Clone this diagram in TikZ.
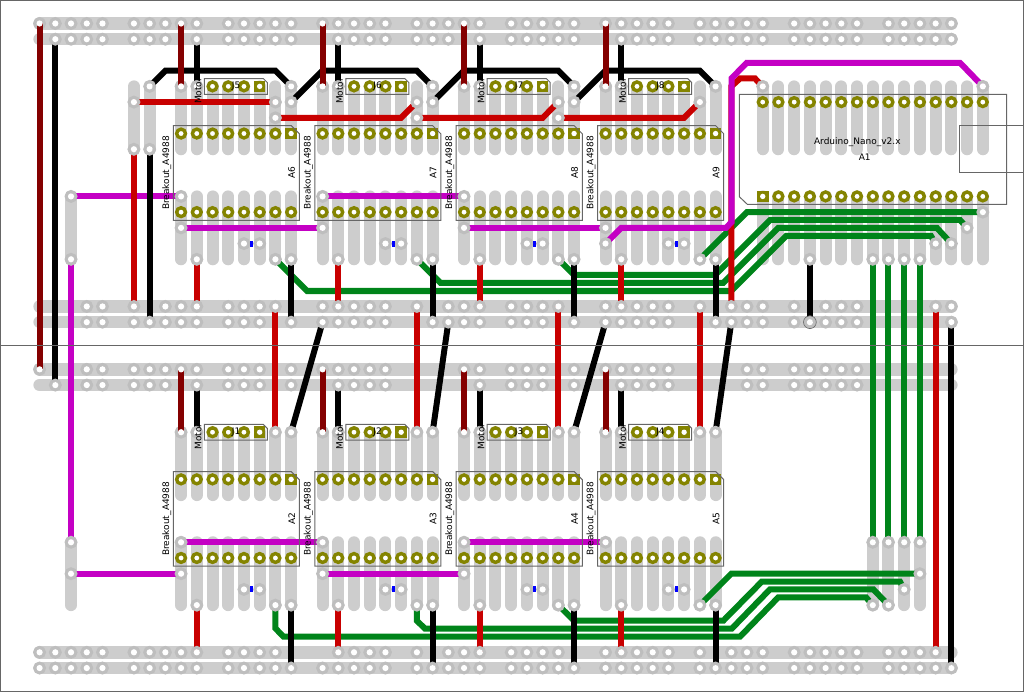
\documentclass[tikz,border=0pt]{standalone}
\usepackage{fontspec}
\usetikzlibrary{calc}
\setmainfont{DejaVu Sans}
\definecolor{stripc}{HTML}{CDCDCD}
\definecolor{ringc}{HTML}{BEBEBE}
\definecolor{redc}{HTML}{C80000}
\definecolor{dredc}{HTML}{840000}
\definecolor{greenc}{HTML}{00841A}
\definecolor{magc}{HTML}{C400C4}
\definecolor{goldc}{HTML}{848400}
\definecolor{linec}{HTML}{666666}
\tikzset{
  strip/.style={line width=12pt,color=stripc,line cap=round},
  rail/.style={line width=12.5pt,color=stripc,line cap=round},
  trk/.style={line width=6pt,line join=miter,line cap=butt},
  gr/.style={trk,color=greenc},
  rd/.style={trk,color=redc},
  dr/.style={trk,color=dredc},
  bk/.style={trk,color=black},
  mg/.style={trk,color=magc},
  ringpad/.style={circle,draw=ringc,line width=3.4pt,fill=none,inner sep=0pt,minimum size=9.4pt},
  goldpad/.style={circle,draw=goldc,line width=3.4pt,fill=white,inner sep=0pt,minimum size=8.8pt},
  goldsq/.style={rectangle,fill=goldc,inner sep=0pt,minimum size=11.6pt},
  outl/.style={draw=linec,line width=1pt},
  lab/.style={font=\fontsize{9}{11}\selectfont,inner sep=0pt,text=black},
}
% #1 = comma list of excluded columns, #2 = row, #3 = code
\makeatletter
\newcommand\railpads[3]{%
  \foreach \cI in {0,...,58}{%
    \pgfmathtruncatemacro\mI{mod(\cI,6)}%
    \ifnum\mI=5\else
      \edef\tmpin{\noexpand\in@{,\cI,}{,#1,}}\tmpin
      \ifin@\else\def\rI{#2}#3\fi
    \fi}}
\makeatother
\newcommand\sitepads[1]{%
  \railpads{}{0}{#1}%
  \railpads{0,9,18,27,36}{1}{#1}%
  \railpads{0,1,2,7,16,25,34,43,49,53,54,55,56}{18}{#1}%
  \railpads{0,1,2,15,24,33,42,53,54,55,56,57}{19}{#1}%
  \railpads{1,2,15,24,25,26,33,42,43,44,53,54,55,56,57,58}{22}{#1}%
  \railpads{0,2,9,18,27,36,15,24,25,26,33,42,43,44,53,54,55,56,57,58}{23}{#1}%
  \railpads{16,18,25,34,43,58}{40}{#1}%
  \railpads{}{41}{#1}%
  \foreach \cI/\rI in {6/5,6/8,7/4,7/8,2/11,2/15,2/33,2/35,
    9/11,9/13,18/11,18/13,27/11,27/13,36/13,36/14,
    15/5,15/6,24/5,24/6,33/5,33/6,42/5,16/5,25/5,34/5,
    9/33,9/35,18/33,18/35,27/33,27/35,36/33,
    46/4,60/4,60/12,59/13,58/14,57/14,53/15,54/15,55/15,56/15,49/15,
    53/33,54/33,55/33,56/33,56/35,55/36,54/37,53/37}{#1}%
  \foreach \bI in {9,18,27,36}{%
    \foreach \kI/\rI in {0/4,1/4,7/4,1/15,4/14,5/14,6/15,7/15,0/26,1/26,6/26,7/26,1/37,4/36,5/36,6/37,7/37}{%
      \pgfmathtruncatemacro\cI{\bI+\kI}#1}}%
}
\begin{document}
\begin{tikzpicture}[x=1pt,y=-1pt]
\useasboundingbox (0,0) rectangle (1024,692);
\foreach \c in {0,...,60}{\foreach \r in {0,...,41}{
  \coordinate (g\c-\r) at ({39.6+15.72*\c},{23.5+15.72*\r});}}
% strips
\foreach \r in {0,1,18,19,22,23,40,41}{\draw[rail] (g0-\r) -- (g58-\r);}
\foreach \c in {6,7}{\draw[strip] (g\c-4) -- (g\c-8);}
\draw[strip] (g2-11) -- (g2-15);
\draw[strip] (g2-33) -- (g2-37);
\foreach \b in {9,18,27,36}{\foreach \k in {0,...,7}{
  \pgfmathtruncatemacro\c{\b+\k}
  \draw[strip] (g\c-4) -- (g\c-8);
  \draw[strip] (g\c-11) -- (g\c-15);
  \draw[strip] (g\c-26) -- (g\c-30);
  \draw[strip] (g\c-33) -- (g\c-37);
}}
\foreach \c in {46,...,60}{\draw[strip] (g\c-4) -- (g\c-8); \draw[strip] (g\c-11) -- (g\c-15);}
\foreach \c in {53,...,56}{\draw[strip] (g\c-33) -- (g\c-37);}
% green
\draw[gr] (g15-15) -- (307.1,291) -- (731,291) -- (786,236) -- (931,236) -- (g57-14);
\draw[gr] (g24-15) -- (440.6,283) -- (723,283) -- (778,228) -- (937,228) -- (g58-14);
\draw[gr] (g33-15) -- (574.1,275) -- (715,275) -- (770,220) -- (960,220) -- (g59-13);
\draw[gr] (g42-15) -- (g45-12) -- (g60-12);
\draw[gr] (g15-37) -- (275.4,628.3) -- (283.5,636.7) -- (740,636.7) -- (778.3,597.3) -- (866,597.3) -- (g53-37);
\draw[gr] (g24-37) -- (416.9,620.7) -- (425,628.7) -- (731.7,628.7) -- (770,589.3) -- (873.3,589.3) -- (g54-37);
\draw[gr] (g33-37) -- (574,620.7) -- (723.3,620.7) -- (761.7,581.7) -- (900,581.7) -- (g55-36);
\draw[gr] (g42-37) -- (g44-35) -- (g56-35);
\foreach \c in {53,...,56}{\draw[gr] (g\c-15) -- (g\c-33);}
% red under magenta
\draw[rd] (g44-18) -- (731.3,86.4) -- (740,78.5) -- (755,78.5) -- (g46-4);
% magenta
\draw[mg] (g2-11) -- (g9-11);
\draw[mg] (g9-13) -- (g18-13);
\draw[mg] (g18-11) -- (g27-11);
\draw[mg] (g27-13) -- (g36-13);
\draw[mg] (g36-14) -- (g37-13) -- (726,227.9) -- (731.6,222) -- (731.6,78.3) -- (746.7,62.8) -- (960,62.8) -- (g60-4);
\draw[mg] (g2-15) -- (g2-33);
\draw[mg] (g2-35) -- (g9-35);
\draw[mg] (g9-33) -- (g18-33);
\draw[mg] (g18-35) -- (g27-35);
\draw[mg] (g27-33) -- (g36-33);
% red
\draw[rd] (g6-8) -- (g6-18);
\draw[rd] (g6-5) -- (g15-5);
\draw[rd] (g15-6) -- (401,117.8) -- (g24-5);
\draw[rd] (g24-6) -- (542.7,117.8) -- (g33-5);
\draw[rd] (g33-6) -- (684,117.8) -- (g42-5);
\draw[rd] (g57-18) -- (g57-40);
\foreach \b in {9,18,27,36}{
  \pgfmathtruncatemacro\d{\b+1}
  \pgfmathtruncatemacro\e{\b+6}
  \pgfmathtruncatemacro\f{\b+7}
  \draw[rd] (g\d-15) -- (g\d-18);
  \draw[rd] (g\e-18) -- (g\e-26);
  \draw[rd] (g\d-37) -- (g\d-40);
  \draw[bk] (g\d-1) -- (g\d-4);
  \draw[bk] (g\d-23) -- (g\d-26);
  \draw[bk] (g\f-15) -- (g\f-19);
  \draw[bk] (g\f-37) -- (g\f-41);
}
% black
\draw[bk] (g1-1) -- (g1-23);
\draw[bk] (g7-8) -- (g7-19);
\draw[bk] (g49-15) -- (g49-19);
\draw[bk] (g58-19) -- (g58-41);
\draw[bk] (g7-4) -- (g8-3) -- (g15-3) -- (g16-4);
\draw[bk] (g16-5) -- (g18-3) -- (g24-3) -- (g25-4);
\draw[bk] (g25-5) -- (g27-3) -- (g33-3) -- (g34-4);
\draw[bk] (g34-5) -- (g36-3) -- (g42-3) -- (g43-4);
\draw[bk] (g18-19) -- (g16-26);
\draw[bk] (g26-19) -- (g25-26);
\draw[bk] (g36-19) -- (g34-26);
\draw[bk] (g44-19) -- (g43-26);
% rings
\sitepads{\node[ringpad] (p\cI-\rI) at (g\cI-\rI) {};}
\draw[linec,line width=0.6pt] (g49-19) circle (6.4);
% gold footprint pads
\foreach \b/\q/\w in {9/7/12,18/7/12,27/7/12,36/7/12,9/29/34,18/29/34,27/29/34,36/29/34}{
  \foreach \k in {0,...,7}{
    \pgfmathtruncatemacro\c{\b+\k}
    \ifnum\k=7 \node[goldsq] (a\c-\q) at (g\c-\q) {};\else\node[goldpad] (a\c-\q) at (g\c-\q) {};\fi
    \node[goldpad] (a\c-\w) at (g\c-\w) {};
  }
}
\foreach \b/\q in {9/4,18/4,27/4,36/4,9/26,18/26,27/26,36/26}{
  \foreach \k in {2,3,4,5}{
    \pgfmathtruncatemacro\c{\b+\k}
    \ifnum\k=5 \node[goldsq] (j\c-\q) at (g\c-\q) {};\else\node[goldpad] (j\c-\q) at (g\c-\q) {};\fi
  }
}
\foreach \c in {46,...,60}{
  \node[goldpad] (n\c-5) at (g\c-5) {};
  \ifnum\c=46 \node[goldsq] (n\c-11) at (g\c-11) {};\else\node[goldpad] (n\c-11) at (g\c-11) {};\fi
}
\foreach \c/\r in {16/7,25/7,34/7,43/7,16/29,25/29,34/29,43/29,14/4,23/4,32/4,41/4,14/26,23/26,32/26,41/26,46/11}{
  \fill[white] (g\c-\r) circle (2.7);}
% dark red
\draw[dr] (g0-0) -- (g0-22);
\foreach \b in {9,18,27,36}{
  \draw[dr] (g\b-0) -- (g\b-4);
  \draw[dr] (g\b-22) -- (g\b-26);
}
% holes
\sitepads{\fill[white] (g\cI-\rI) circle (3.1);}
% blue marks
\foreach \b in {13,22,31,40}{
  \pgfmathtruncatemacro\d{\b+1}
  \foreach \r in {14,36}{
    \node[fill=blue,inner sep=0pt,minimum width=3.2pt,minimum height=6pt] (bl\b-\r) at ($(g\b-\r)!0.5!(g\d-\r)$) {};
  }
}
% module outlines and labels
\foreach \b/\q/\a/\j in {9/7/6/5,18/7/7/6,27/7/8/7,36/7/9/8,9/29/2/1,18/29/3/2,27/29/4/3,36/29/5/4}{
  \begin{scope}[shift={(g\b-\q)}]
    \draw[outl] (-7.8,-7.8) -- (110.2,-7.8) -- (118.2,0.2) -- (118.2,86.8) -- (-7.8,86.8) -- cycle;
    \node[lab,rotate=90] (brk\a) at (-14.4,39.5) {Breakout\_A4988};
    \node[lab,rotate=90] (an\a) at (110.6,39.5) {A\a};
    \draw[outl] (23.2,-55) -- (82.2,-55) -- (86.2,-51) -- (86.2,-39.2) -- (23.2,-39.2) -- cycle;
    \node[lab] (jl\j) at (55,-47) {J\j};
    \node[lab,rotate=90,anchor=west] (mt\j) at (17.1,-29.5) {Motor};
  \end{scope}
}
% Arduino
\draw[outl] (739.3,94.3) -- (1006.7,94.3) -- (1006.7,204.3) -- (747.3,204.3) -- (739.3,196.7) -- cycle;
\draw[outl] (1024,126) -- (959.3,126) -- (959.3,173) -- (1024,173);
\node[lab] (nano) at (857.3,141.7) {Arduino\_Nano\_v2.x};
\node[lab] (a1) at (864.7,157) {A1};
% frame
\draw[linec,line width=1pt] (0.5,0.5) rectangle (1023.5,691.5);
\draw[linec,line width=1.2pt] (0,345.5) -- (1024,345.5);
\end{tikzpicture}
\end{document}
